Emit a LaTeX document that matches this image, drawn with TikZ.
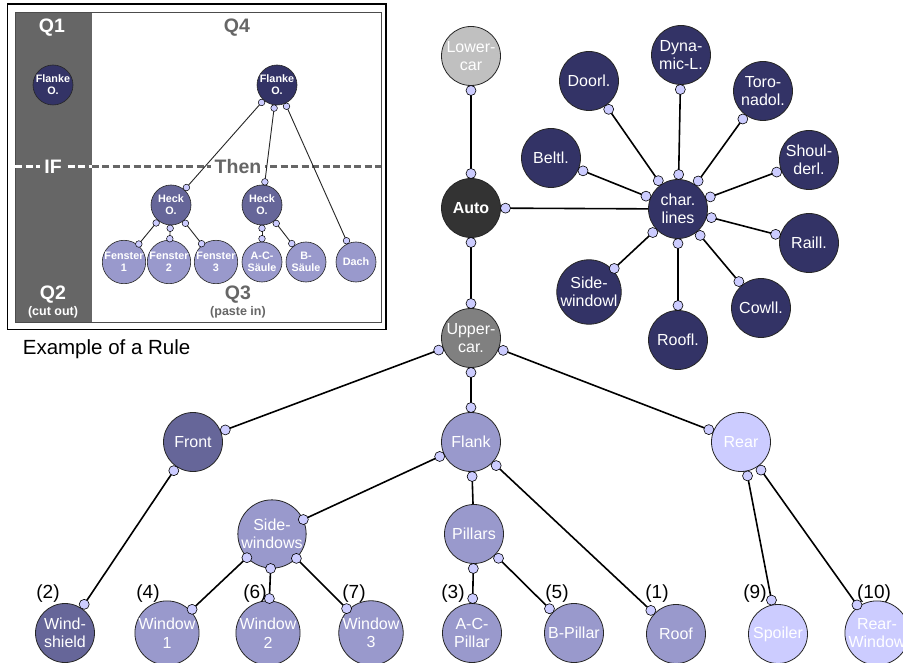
\documentclass[tikz,border=0pt]{standalone}
\usepackage{fontspec}
\setmainfont{Liberation Sans}
\usetikzlibrary{calc}
\definecolor{lightgrey}{HTML}{C0C0C0}
\definecolor{autogrey}{HTML}{333333}
\definecolor{midgrey}{HTML}{808080}
\definecolor{navy}{HTML}{333366}
\definecolor{dusk}{HTML}{666699}
\definecolor{lilac}{HTML}{9999CC}
\definecolor{pale}{HTML}{CCCCFF}
\definecolor{textgrey}{HTML}{666666}
\newcommand\portgap{34.5pt}
\tikzset{
  carpart/.style={circle, draw=black!85, line width=0.8pt, minimum size=59pt, inner sep=0pt,
    text=white, align=center, font=\fontsize{16}{18.5}\selectfont},
  rulepart/.style={carpart, minimum size=40pt, line width=0.6pt,
    font=\bfseries\fontsize{10.8}{11.8}\selectfont},
  port/.style={circle, draw=black, fill=pale, line width=0.6pt, minimum size=10pt, inner sep=0pt},
  link/.style={to path={-- (\tikztotarget)
      node[port] at ($(\tikztostart)!\portgap!(\tikztotarget)$) {}
      node[port] at ($(\tikztotarget)!\portgap!(\tikztostart)$) {}}},
  halflink/.style={to path={-- (\tikztotarget)
      node[port] at ($(\tikztostart)!\portgap!(\tikztotarget)$) {}}},
  numlabel/.style={font=\fontsize{19}{22}\selectfont},
  quadlabel/.style={font=\bfseries\fontsize{19.5}{22}\selectfont},
  notelabel/.style={font=\bfseries\fontsize{12.5}{14}\selectfont}
}
\begin{document}
\begin{tikzpicture}[x=1pt,y=-1pt]
  \path[use as bounding box, fill=white] (0,0) rectangle (903,663);

  % the rule (inset)
  \begin{scope}[port/.append style={minimum size=6.6pt, line width=0.5pt}]
    \def\portgap{23.3pt}
    \draw[line width=1.3pt] (7.3,4) rectangle (386,329.3);
    \fill[textgrey] (15,12.3) rectangle (91.7,322.7);
    \draw[black!70, line width=0.6pt] (15,12.3) rectangle (381,322.7);
    \draw[white, line width=3pt, dash pattern=on 7pt off 3.5pt] (15,166.7) -- (91.7,166.7);
    \draw[textgrey, line width=3pt, dash pattern=on 7pt off 3.5pt] (91.7,166.7) -- (381,166.7);
    \path
      (52,28) node[quadlabel, text=white] (q1) {Q1}
      (237,28) node[quadlabel, text=textgrey] (q4) {Q4}
      (53,167) node[quadlabel, text=white, fill=textgrey, inner sep=4pt] (if) {IF}
      (238,167) node[quadlabel, text=textgrey, fill=white, inner sep=4pt] (then) {Then}
      (53,295) node[quadlabel, text=white] (q2) {Q2}
      (53,312) node[notelabel, text=white] (cutout) {(cut out)}
      (238,295) node[quadlabel, text=textgrey] (q3) {Q3}
      (238,312) node[notelabel, text=textgrey] (pastein) {(paste in)};
    \path
      (53,85) node[rulepart, fill=navy] (flankeA) {Flanke\\O.}
      (277,85) node[rulepart, fill=navy] (flankeB) {Flanke\\O.}
      (171,205) node[rulepart, fill=dusk] (heckA) {Heck\\O.}
      (262,205) node[rulepart, fill=dusk] (heckB) {Heck\\O.}
      (124,262) node[rulepart, fill=lilac] (fen1) {Fenster\\1}
      (169,262) node[rulepart, fill=lilac] (fen2) {Fenster\\2}
      (216,262) node[rulepart, fill=lilac] (fen3) {Fenster\\3}
      (262,262) node[rulepart, fill=lilac] (acs) {A-C-\\Säule}
      (306,262) node[rulepart, fill=lilac] (bs) {B-\\Säule}
      (356,262) node[rulepart, fill=lilac] (dach) {Dach};
    \begin{scope}[black!85, line width=0.9pt]
      \draw[link] (flankeB) to (heckA);
      \draw[link] (flankeB) to (heckB);
      \draw[link] (flankeB) to (dach);
      \draw[link] (heckA) to (fen1);
      \draw[link] (heckA) to (fen2);
      \draw[link] (heckA) to (fen3);
      \draw[link] (heckB) to (acs);
      \draw[link] (heckB) to (bs);
    \end{scope}
  \end{scope}
  \node[anchor=base west, font=\fontsize{20.5}{24}\selectfont] (caption) at (19.3,354.3) {Example of a Rule};

  % the car
  \path
    (471,56) node[carpart, fill=lightgrey] (lower) {Lower-\\car}
    (471,208) node[carpart, fill=autogrey, font=\bfseries\fontsize{16}{18.5}\selectfont] (auto) {Auto}
    (471,338) node[carpart, fill=midgrey] (upper) {Upper-\\car.}
    (678,209) node[carpart, fill=navy] (chars) {char.\\lines}
    (551,158) node[carpart, fill=navy] (beltl) {Beltl.}
    (589,81) node[carpart, fill=navy] (doorl) {Doorl.}
    (681,55) node[carpart, fill=navy] (dynl) {Dyna-\\mic-L.}
    (763,91) node[carpart, fill=navy] (torol) {Toro-\\nadol.}
    (809,160) node[carpart, fill=navy] (shoull) {Shoul-\\derl.}
    (809,243) node[carpart, fill=navy] (raill) {Raill.}
    (761,308) node[carpart, fill=navy] (cowll) {Cowll.}
    (678,340) node[carpart, fill=navy] (roofl) {Roofl.}
    (589,292) node[carpart, fill=navy] (sidewl) {Side-\\windowl};
  \path
    (193,442) node[carpart, fill=dusk] (front) {Front}
    (471,442) node[carpart, fill=lilac] (flank) {Flank}
    (741,442) node[carpart, fill=pale] (rear) {Rear}
    (272,534) node[carpart, fill=lilac] (sidewin) {Side-\\windows}
    (474,534) node[carpart, fill=lilac] (pillars) {Pillars}
    (65,633) node[carpart, fill=dusk] (windshield) {Wind-\\shield}
    (167,633) node[carpart, fill=lilac] (win1) {Window\\1}
    (268,633) node[carpart, fill=lilac] (win2) {Window\\2}
    (371,633) node[carpart, fill=lilac] (win3) {Window\\3}
    (472,633) node[carpart, fill=lilac] (acpillar) {A-C-\\Pillar}
    (574,633) node[carpart, fill=lilac] (bpillar) {B-Pillar}
    (676,634) node[carpart, fill=lilac] (roof) {Roof}
    (778,634) node[carpart, fill=pale] (spoiler) {Spoiler}
    (877,633) node[carpart, fill=pale] (rearwin) {Rear-\\Window};
  \path
    (48,594) node[numlabel] (n2) {(2)}
    (148,594) node[numlabel] (n4) {(4)}
    (255,594) node[numlabel] (n6) {(6)}
    (354,594) node[numlabel] (n7) {(7)}
    (453,594) node[numlabel] (n3) {(3)}
    (557,594) node[numlabel] (n5) {(5)}
    (657,594) node[numlabel] (n1) {(1)}
    (755,594) node[numlabel] (n9) {(9)}
    (874,594) node[numlabel] (n10) {(10)};
  \begin{scope}[line width=1.6pt]
    \draw[link] (lower) to (auto);
    \draw[link] (auto) to (upper);
    \draw[halflink] (auto) to (chars);
    \draw[link] (chars) to (beltl);
    \draw[link] (chars) to (doorl);
    \draw[link] (chars) to (dynl);
    \draw[link] (chars) to (torol);
    \draw[link] (chars) to (shoull);
    \draw[link] (chars) to (raill);
    \draw[link] (chars) to (cowll);
    \draw[link] (chars) to (roofl);
    \draw[link] (chars) to (sidewl);
    \draw[link] (upper) to (front);
    \draw[link] (upper) to (flank);
    \draw[link] (upper) to (rear);
    \draw[link] (front) to (windshield);
    \draw[link] (flank) to (sidewin);
    \draw[halflink] (flank) to (pillars);
    \draw[link] (flank) to (roof);
    \draw[link] (sidewin) to (win1);
    \draw[link] (sidewin) to (win2);
    \draw[link] (sidewin) to (win3);
    \draw[link] (pillars) to (acpillar);
    \draw[link] (pillars) to (bpillar);
    \draw[link] (rear) to (spoiler);
    \draw[link] (rear) to (rearwin);
  \end{scope}
\end{tikzpicture}
\end{document}
